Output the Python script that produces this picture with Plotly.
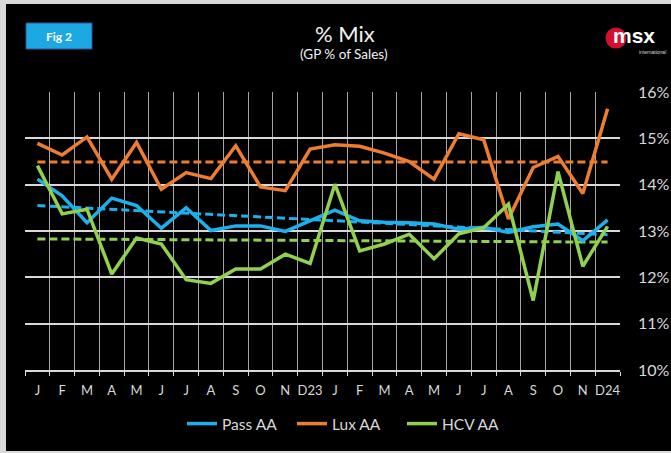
import plotly.graph_objects as go

# ---------------- data ----------------
months = ["J", "F", "M", "A", "M", "J", "J", "A", "S", "O", "N", "D23",
          "J", "F", "M", "A", "M", "J", "J", "A", "S", "O", "N", "D24"]

pass_aa = [14.12, 13.76, 13.18, 13.71, 13.55, 13.06, 13.50, 13.01, 13.11, 13.11, 12.99, 13.22,
           13.45, 13.22, 13.19, 13.18, 13.15, 13.04, 13.08, 12.97, 13.09, 13.15, 12.79, 13.24]
lux_aa = [14.89, 14.64, 15.03, 14.12, 14.91, 13.90, 14.26, 14.13, 14.84, 13.95, 13.87, 14.77,
          14.86, 14.83, 14.68, 14.50, 14.12, 15.10, 14.97, 13.26, 14.37, 14.61, 13.81, 15.64]
hcv_aa = [14.41, 13.37, 13.47, 12.07, 12.85, 12.72, 11.95, 11.87, 12.18, 12.18, 12.50, 12.30,
          14.01, 12.57, 12.72, 12.93, 12.40, 12.94, 13.07, 13.58, 11.50, 14.28, 12.24, 13.10]

# trend lines (start / end values)
pass_trend = [13.55, 12.92]
lux_trend = [14.49, 14.49]
hcv_trend = [12.83, 12.76]

y_ticks = [10, 11, 12, 13, 14, 15, 16]

# ---------------- layout helpers ----------------
W, H = 671, 453
ML, MR, MT, MB = 25, 51, 92, 83
PW, PH = W - ML - MR, H - MT - MB


def px(x):
    return (x - ML) / PW


def py(y):
    return (H - MB - y) / PH


BLUE = "#1cb0ec"
ORANGE = "#ed7d31"
GREEN = "#92d050"
TXT = "#d9d9d9"
FONT = "Lato"

n = len(months)
xs = list(range(n))
trend_x = [xs[0], xs[-1]]

fig = go.Figure()

for vals, col in [(pass_trend, BLUE), (lux_trend, ORANGE), (hcv_trend, GREEN)]:
    fig.add_trace(go.Scatter(x=trend_x, y=vals, mode="lines", showlegend=False,
                             hoverinfo="skip",
                             line=dict(color=col, width=3, dash="8px,4px")))

for name, vals, col in [("Pass AA", pass_aa, BLUE), ("Lux AA", lux_aa, ORANGE),
                        ("HCV AA", hcv_aa, GREEN)]:
    fig.add_trace(go.Scatter(x=xs, y=vals, mode="lines", name=name,
                             line=dict(color=col, width=3.5)))

boundaries = [i - 0.5 for i in range(n + 1)]

fig.update_layout(
    width=W, height=H,
    margin=dict(l=ML, r=MR, t=MT, b=MB, pad=0, autoexpand=False),
    paper_bgcolor="black",
    plot_bgcolor="black",
    font=dict(family=FONT, color=TXT),
    showlegend=True,
    legend=dict(orientation="h", x=px(347), xanchor="center", y=py(424), yanchor="middle",
                font=dict(size=15.5, color=TXT, family=FONT), bgcolor="rgba(0,0,0,0)",
                itemwidth=30, entrywidth=65, entrywidthmode="pixels"),
    xaxis=dict(
        range=[-0.5, n - 0.5], automargin=False,
        tickmode="array", tickvals=xs, ticktext=months,
        showgrid=False, zeroline=False,
        ticks="", tickfont=dict(size=13, color=TXT, family=FONT),
        ticklabelstandoff=8,
        showline=True, linecolor="#d9d9d9", linewidth=1.5,
        minor=dict(tickmode="array", tickvals=boundaries, showgrid=True,
                   gridcolor="#a6a6a6", gridwidth=1,
                   ticks="outside", ticklen=4, tickcolor="#d9d9d9", tickwidth=1),
    ),
    yaxis=dict(
        range=[10, 16], side="right", automargin=False,
        tickmode="array", tickvals=y_ticks, ticktext=[f"{v}%" for v in y_ticks],
        showgrid=True, gridcolor="#d9d9d9", gridwidth=1.5, zeroline=False,
        ticks="", tickfont=dict(size=16, color=TXT, family=FONT),
        ticklabelstandoff=17,
    ),
)

shapes = [
    # light frame around the slide
    dict(type="rect", xref="paper", yref="paper", x0=px(0), x1=px(W), y0=py(0), y1=py(4),
         fillcolor="#d9d9d9", line=dict(width=0), layer="above"),
    dict(type="rect", xref="paper", yref="paper", x0=px(0), x1=px(6), y0=py(0), y1=py(H),
         fillcolor="#d9d9d9", line=dict(width=0), layer="above"),
    dict(type="rect", xref="paper", yref="paper", x0=px(0), x1=px(W), y0=py(451), y1=py(H),
         fillcolor="#d9d9d9", line=dict(width=0), layer="above"),
    # Fig 2 box
    dict(type="rect", xref="paper", yref="paper", x0=px(26), x1=px(92), y0=py(23), y1=py(49),
         fillcolor="#1ca8e3", line=dict(color="#2f5597", width=1), layer="above"),
    # logo circle
    dict(type="circle", xref="paper", yref="paper", x0=px(605.5), x1=px(626.5),
         y0=py(27.5), y1=py(48.5), fillcolor="#d3112e", line=dict(width=0), layer="above"),
]

annotations = [
    dict(text="<b>Fig 2</b>", x=px(59), y=py(36.5), xref="paper", yref="paper",
         showarrow=False, font=dict(size=12, color="white", family=FONT),
         xanchor="center", yanchor="middle"),
    dict(text="% Mix", x=px(345), y=py(33), xref="paper", yref="paper",
         showarrow=False, font=dict(size=22, color="#f2f2f2", family=FONT),
         xanchor="center", yanchor="middle"),
    dict(text="(GP % of Sales)", x=px(344), y=py(54), xref="paper", yref="paper",
         showarrow=False, font=dict(size=13.5, color="#f2f2f2", family=FONT),
         xanchor="center", yanchor="middle"),
    dict(text="<b>msx</b>", x=px(634), y=py(35.5), xref="paper", yref="paper",
         showarrow=False, borderpad=0,
         font=dict(size=21, color="white", family="Liberation Sans"),
         xanchor="center", yanchor="middle"),
    dict(text="international", x=px(652), y=py(51.5), xref="paper", yref="paper",
         showarrow=False, borderpad=0,
         font=dict(size=5, color="#d9d9d9", family="Liberation Sans"),
         xanchor="center", yanchor="middle"),
]

fig.update_layout(shapes=shapes, annotations=annotations)

fig.write_html("out.html")
